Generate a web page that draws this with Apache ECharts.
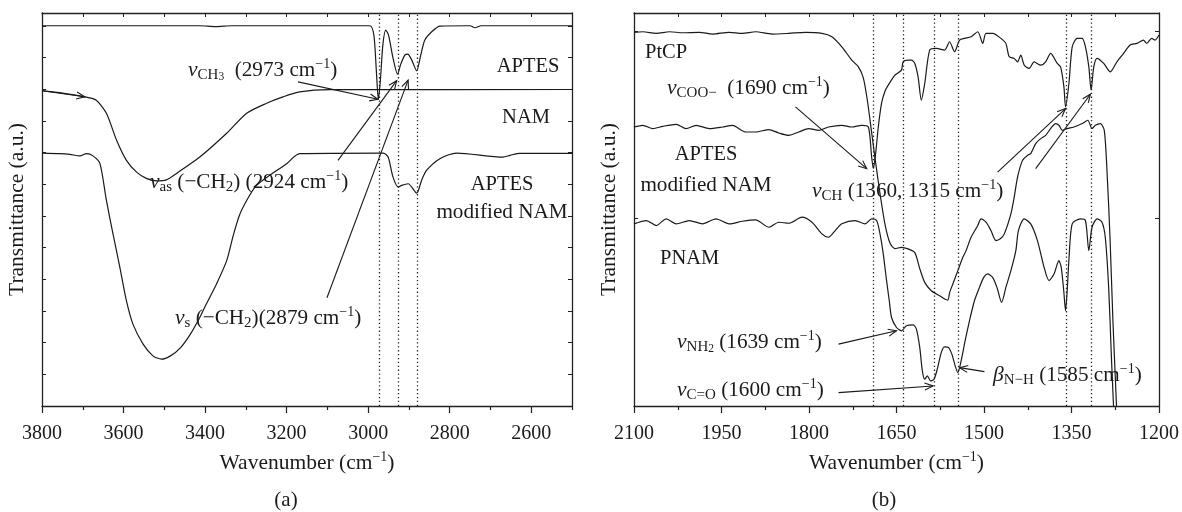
<!DOCTYPE html>
<html>
<head>
<meta charset="utf-8">
<script src="https://cdn.jsdelivr.net/npm/echarts@6.0.0/dist/echarts.min.js"></script>
<style>
html,body{margin:0;padding:0;background:#fff;}
#chart{width:1182px;height:512px;}
</style>
</head>
<body>
<div id="chart"></div>
<script>
// ---------------- DATA ----------------
// Panel (a): wavenumber (cm-1), transmittance (a.u.)
const aptesA = [[3800,37.93],[3413,37.93],[3374,37.85],[3334,37.93],[2996,37.93],[2986,37.0],[2980,33.5],[2975,30.57],[2970,32.5],[2964,36.0],[2957,37.5],[2950,37.0],[2939,34.7],[2928,33.1],[2920,34.1],[2910,35.0],[2903,35.1],[2893,34.5],[2881,33.43],[2871,35.0],[2861,36.5],[2844,37.33],[2824,37.9],[2750,37.93],[2738,37.73],[2723,37.93],[2500,37.93]];
const namA = [[3800,31.45],[3757,31.25],[3695,30.83],[3667,30.5],[3642,29.2],[3617,26.5],[3593,24.5],[3568,23.33],[3544,22.7],[3519,22.45],[3495,22.55],[3470,23.2],[3413,24.83],[3347,27.2],[3298,29.2],[3249,30.2],[3209,30.83],[3168,31.33],[3094,31.55],[2500,31.57]];
const modNamA = [[3800,25.23],[3757,25.17],[3732,25.1],[3707,24.95],[3691,25.17],[3675,24.95],[3658,24.2],[3642,20.5],[3626,17.2],[3609,13.83],[3593,10.5],[3577,8.17],[3552,6.17],[3528,5.0],[3507,4.67],[3485,5.0],[3460,5.83],[3436,7.17],[3413,8.83],[3397,10.17],[3372,12.17],[3347,14.5],[3331,17.0],[3315,19.1],[3298,20.5],[3276,21.9],[3249,22.8],[3200,24.17],[3168,25.17],[2963,25.23],[2951,24.83],[2939,22.83],[2926,21.83],[2918,22.0],[2902,22.17],[2881,21.23],[2869,22.5],[2857,23.5],[2824,24.67],[2783,25.23],[2669,24.83],[2652,25.0],[2628,25.2],[2500,25.2]];
const peakLinesA = [2972, 2925, 2880];
// annotation arrows [fromX, fromY, toX, toY]
const arrowsA = [[3172,32.33,2976,30.6],[3074,24.5,2930,32.45],[3101,10.8,2902,32.5],[3800,31.45,3695,30.85]];
const ticksMajorA = [3800,3600,3400,3200,3000,2800,2600];
const ticksMinorA = [3700,3500,3300,3100,2900,2700,2500];

// Panel (b)
const ptcpB = [[2100,37.27],[2084.7,37.33],[2061.8,37.17],[2039.1,37.33],[2016.5,37.23],[1988,37.27],[1965.3,37.1],[1936.9,37.27],[1914.2,37.17],[1891.4,37.33],[1863.1,37.1],[1834.6,37.17],[1806.1,37.27],[1777.8,37.17],[1760.8,36.83],[1743.8,35.83],[1726.7,34.5],[1715.3,33.83],[1706.8,32.7],[1700,30.5],[1693.1,27.5],[1686.3,24.5],[1677.8,21.0],[1669.3,18.0],[1660.8,16.2],[1652.7,15.7],[1641.5,15.83],[1630.1,15.67],[1618.6,15.3],[1610.1,13.7],[1601.6,12.33],[1590.3,11.5],[1576,11.0],[1567.5,10.67],[1561.9,10.57],[1559,11.3],[1553.4,12.17],[1544.8,13.5],[1536.3,14.83],[1530.7,15.5],[1522.2,16.83],[1510.7,18.0],[1505.1,18.67],[1496.6,18.33],[1488.1,17.5],[1479.5,16.5],[1471.5,16.7],[1465.2,17.17],[1453.9,19.17],[1448.2,20.83],[1442.5,22.83],[1434,24.5],[1425.5,25.0],[1419.9,25.17],[1411.4,26.17],[1402.8,26.67],[1394.3,27.0],[1385.8,27.67],[1377.3,28.17],[1371.5,28.0],[1365.9,27.5],[1357.4,27.67],[1345.9,27.83],[1331.8,28.17],[1322.1,28.5],[1314.8,27.67],[1309.1,28.0],[1300.6,28.17],[1293.8,27.5],[1289.2,23.5],[1284.0,16.83],[1279.0,8.5],[1272.1,-1]];
const modNamB = [[2100,27.83],[2084.7,28.0],[2067.6,27.67],[2050.6,27.9],[2027.7,28.1],[2010.7,27.67],[1993.6,28.0],[1971,27.67],[1948.3,27.83],[1931.3,28.0],[1908.4,27.33],[1891.4,27.33],[1868.7,27.57],[1851.7,27.23],[1834.6,27.0],[1817.6,27.33],[1800.6,27.67],[1783.5,27.5],[1766.5,27.83],[1743.8,28.0],[1726.7,27.83],[1709.7,28.0],[1698.2,27.83],[1692.6,24.83],[1689.7,23.67],[1685.8,25.17],[1681.2,27.83],[1675.6,30.2],[1669.8,31.4],[1664.2,32.0],[1652.7,33.0],[1641.5,33.5],[1638.6,34.33],[1630.1,34.5],[1624.4,34.5],[1618.6,34.17],[1613,32.83],[1607.4,30.5],[1601.6,32.17],[1593.1,35.5],[1581.8,35.67],[1567.5,35.5],[1559,36.33],[1550.5,35.33],[1541.9,36.5],[1533.4,36.67],[1522.2,36.83],[1510.7,37.33],[1502.2,36.17],[1496.6,37.17],[1485.2,37.17],[1471,36.67],[1462.5,36.17],[1456.7,34.83],[1448.2,34.67],[1442.5,34.33],[1436.9,35.0],[1431.1,34.0],[1422.6,33.67],[1414.1,34.33],[1402.8,34.0],[1394.3,34.33],[1385.8,35.17],[1374.4,34.17],[1368.7,33.83],[1363,31.83],[1360.2,29.83],[1354.4,32.17],[1348.8,35.83],[1340.3,36.67],[1331.8,36.67],[1326.1,35.83],[1320.3,33.83],[1316.4,31.5],[1311.8,33.83],[1306.2,34.67],[1294.8,34.17],[1283.5,33.33],[1272.1,34.33],[1260.7,35.17],[1249.4,36.0],[1238,36.17],[1226.6,36.5],[1221,36.17],[1212.5,36.67],[1206.8,36.5],[1200,37.0]];
const pnamB = [[2100,18.17],[2078.9,18.5],[2061.8,18.0],[2044.8,18.67],[2027.7,18.17],[2005.1,18.5],[1982.4,18.17],[1959.5,18.67],[1936.9,18.17],[1914.2,18.43],[1891.4,18.57],[1868.7,17.83],[1851.7,18.33],[1834.6,18.23],[1811.9,18.83],[1794.9,18.33],[1777.8,17.17],[1766.5,16.83],[1755,17.5],[1743.8,18.17],[1720.9,18.5],[1703.9,18.17],[1692.6,18.67],[1684.1,18.5],[1678.3,17.17],[1672.7,15.17],[1667,12.5],[1662.4,10.5],[1658.5,8.83],[1650,7.83],[1641.5,7.5],[1633,8.0],[1621.5,8.1],[1615.9,7.67],[1610.1,5.83],[1605.7,3.5],[1601.6,2.67],[1597.2,3.0],[1591.4,2.5],[1585.7,2.67],[1580.1,3.67],[1573.3,5.33],[1567.5,5.9],[1560.7,5.83],[1555.1,5.17],[1549.4,4.0],[1544.8,3.33],[1539.2,4.5],[1532.4,6.5],[1524.9,8.5],[1516.4,10.5],[1507.8,11.83],[1500.5,12.83],[1493.7,13.17],[1485.2,12.83],[1477.8,11.83],[1469.8,10.33],[1462.5,11.83],[1453.9,13.5],[1445.4,15.5],[1441,17.5],[1431.1,18.67],[1419.9,18.17],[1408.4,16.5],[1397,13.83],[1388.5,12.5],[1380,13.17],[1371.5,14.5],[1367.6,13.83],[1363.3,11.5],[1360.2,9.5],[1357.4,11.5],[1354.5,14.5],[1348.8,18.17],[1334.7,18.67],[1326.1,18.5],[1320.3,15.5],[1314.8,17.83],[1306.2,18.67],[1297.7,18.33],[1292.1,16.83],[1286.3,11.83],[1281.8,5.17],[1277.2,-1]];
const peakLinesB = [1690, 1639, 1586, 1545, 1359, 1316];
const arrowsB = [[1823.2,29.83,1701.1,23.67],[1476.7,23.33,1360.2,29.67],[1411.4,23.67,1317.6,31.1],[1749.4,6.17,1650,7.5],[1749.4,1.33,1587.4,2.0],[1499.3,3.43,1541.9,3.83]];
const ticksMajorB = [2100,1950,1800,1650,1500,1350,1200];
const ticksMinorB = [2025,1875,1725,1575,1425,1275];

// ---------------- CHART ----------------
const F = "'Liberation Serif','DejaVu Serif',serif";
const INK = '#1a1a1a';
const chart = echarts.init(document.getElementById('chart'), null, {renderer:'canvas'});

const richT = {
  i:{fontStyle:'italic', fontFamily:F, fontSize:21.5, color:INK, lineHeight:26},
  s:{fontFamily:F, fontSize:15, color:INK, verticalAlign:'bottom', lineHeight:13},
  ss:{fontFamily:F, fontSize:11.5, color:INK, verticalAlign:'bottom', lineHeight:9},
  sup:{fontFamily:F, fontSize:14, color:INK, verticalAlign:'top', lineHeight:14}
};
function txt(x, y, text, align, size){
  return {type:'text', x:x, y:y, silent:true, z:50,
    style:{text:text, fontFamily:F, fontSize:size||21.2, fill:INK, align:align||'left', verticalAlign:'middle', lineHeight:26, rich:richT}};
}

function arrowItem(params, api){
  const p1 = api.coord([api.value(0), api.value(1)]);
  const p2 = api.coord([api.value(2), api.value(3)]);
  const ang = Math.atan2(p2[1]-p1[1], p2[0]-p1[0]);
  const L = 9, a = 0.4;
  const h1 = [p2[0]-L*Math.cos(ang-a), p2[1]-L*Math.sin(ang-a)];
  const h2 = [p2[0]-L*Math.cos(ang+a), p2[1]-L*Math.sin(ang+a)];
  return {type:'group', children:[
    {type:'line', shape:{x1:p1[0],y1:p1[1],x2:p2[0],y2:p2[1]}, style:{stroke:INK, lineWidth:1.1}},
    {type:'polyline', shape:{points:[h1,p2,h2]}, style:{stroke:INK, fill:null, lineWidth:1.1}}
  ]};
}

const axisLineStyle = {color:'#222', width:1.3};
function bottomMajor(grid, min, max, ticks){
  return {gridIndex:grid, type:'value', min:min, max:max, inverse:true, position:'bottom',
    axisLine:{show:true, onZero:false, lineStyle:axisLineStyle},
    axisTick:{show:true, inside:false, length:7, customValues:ticks, lineStyle:{color:'#222', width:1.2}},
    axisLabel:{show:true, customValues:ticks, formatter:function(v){return String(v);}, fontFamily:F, fontSize:20, color:INK, margin:18},
    splitLine:{show:false},
    name:'{t|Wavenumber (cm}{sup|−1}{t|)}', nameLocation:'middle', nameGap:44,
    nameTextStyle:{fontFamily:F, fontSize:21.5, color:INK, lineHeight:26,
      rich:{t:{fontFamily:F, fontSize:21.5, color:INK, lineHeight:26}, sup:{fontFamily:F, fontSize:14, color:INK, verticalAlign:'top', lineHeight:14}}}
  };
}
function bottomMinor(grid, min, max, ticks){
  return {gridIndex:grid, type:'value', min:min, max:max, inverse:true, position:'bottom',
    axisLine:{show:false, onZero:false}, axisTick:{show:true, inside:false, length:4, customValues:ticks, lineStyle:{color:'#222', width:1.2}},
    axisLabel:{show:false}, splitLine:{show:false}};
}
function topAxis(grid, min, max, ticks){
  return {gridIndex:grid, type:'value', min:min, max:max, inverse:true, position:'top',
    axisLine:{show:true, onZero:false, lineStyle:axisLineStyle}, axisTick:{show:true, inside:true, length:4, customValues:ticks, lineStyle:{color:'#222', width:1}},
    axisLabel:{show:false}, splitLine:{show:false}};
}
function yAx(grid, pos, interval, named){
  const o = {gridIndex:grid, type:'value', min:0, max:39.2, interval:interval, position:pos,
    axisLine:{show:true, onZero:false, lineStyle:axisLineStyle}, axisTick:{show:true, inside:true, length:4, lineStyle:{color:'#222', width:1}},
    axisLabel:{show:false}, splitLine:{show:false}};
  if (named){ o.name = 'Transmittance (a.u.)'; o.nameLocation='middle'; o.nameGap=14; o.nameRotate=90;
    o.nameTextStyle = {fontFamily:F, fontSize:21.5, color:INK}; }
  return o;
}

function lineSeries(name, data, xi, yi, extra){
  return Object.assign({name:name, type:'line', xAxisIndex:xi, yAxisIndex:yi, data:data, showSymbol:false, symbol:'none',
    smooth:0.25, clip:true, lineStyle:{color:INK, width:1.2}, z:5}, extra||{});
}
function dotted(values){
  return {silent:true, symbol:['none','none'], animation:false, label:{show:false},
    lineStyle:{type:[1.3,2.6], color:'#222', width:1.3}, data:values.map(v=>({xAxis:v}))};
}

const option = {
  animation:false,
  backgroundColor:'#fff',
  grid:[
    {left:42, top:13, right:610, bottom:106},
    {left:634, top:13, right:20, bottom:106}
  ],
  xAxis:[
    bottomMajor(0, 2500, 3800, ticksMajorA),
    bottomMinor(0, 2500, 3800, ticksMinorA),
    topAxis(0, 2500, 3800, ticksMajorA.concat(ticksMinorA)),
    bottomMajor(1, 1200, 2100, ticksMajorB),
    bottomMinor(1, 1200, 2100, ticksMinorB),
    topAxis(1, 1200, 2100, ticksMajorB.concat(ticksMinorB))
  ],
  yAxis:[
    yAx(0, 'left', 3.16, true),
    yAx(0, 'right', 3.16, false),
    yAx(1, 'left', 18.7, true),
    yAx(1, 'right', 18.7, false)
  ],
  series:[
    lineSeries('APTES', aptesA, 0, 0, {markLine:dotted(peakLinesA)}),
    lineSeries('NAM', namA, 0, 0),
    lineSeries('APTES modified NAM', modNamA, 0, 0),
    {type:'custom', coordinateSystem:'cartesian2d', xAxisIndex:0, yAxisIndex:0, data:arrowsA, renderItem:arrowItem, encode:{x:[0,2], y:[1,3]}, clip:false, silent:true, z:6},
    lineSeries('PtCP', ptcpB, 3, 2, {markLine:dotted(peakLinesB)}),
    lineSeries('APTES modified NAM (b)', modNamB, 3, 2),
    lineSeries('PNAM', pnamB, 3, 2),
    {type:'custom', coordinateSystem:'cartesian2d', xAxisIndex:3, yAxisIndex:2, data:arrowsB, renderItem:arrowItem, encode:{x:[0,2], y:[1,3]}, clip:false, silent:true, z:6}
  ],
  graphic:[
    txt(188, 70, '{i|ν}{s|CH}{ss|3}  (2973 cm{sup|−1})'),
    txt(528, 67, 'APTES', 'center', 20.5),
    txt(526, 118, 'NAM', 'center', 20.5),
    txt(502, 185, 'APTES', 'center', 20.5),
    txt(502, 212, 'modified NAM', 'center'),
    txt(150, 182, '{i|ν}{s|as} (−CH{s|2}) (2924 cm{sup|−1})'),
    txt(175, 318, '{i|ν}{s|s} (−CH{s|2})(2879 cm{sup|−1})'),
    txt(286, 500, '(a)', 'center', 21),
    txt(645, 53, 'PtCP', 'left', 20.5),
    txt(667, 88, '{i|ν}{s|COO−}  (1690 cm{sup|−1})'),
    txt(706, 155, 'APTES', 'center', 20.5),
    txt(706, 185, 'modified NAM', 'center'),
    txt(812, 191, '{i|ν}{s|CH} (1360, 1315 cm{sup|−1})'),
    txt(660, 259, 'PNAM', 'left', 20.5),
    txt(677, 342, '{i|ν}{s|NH}{ss|2} (1639 cm{sup|−1})'),
    txt(677, 390, '{i|ν}{s|C=O} (1600 cm{sup|−1})'),
    txt(993, 375, '{i|β}{s|N−H} (1585 cm{sup|−1})'),
    txt(884, 500, '(b)', 'center', 21)
  ]
};
chart.setOption(option);
</script>
</body>
</html>
